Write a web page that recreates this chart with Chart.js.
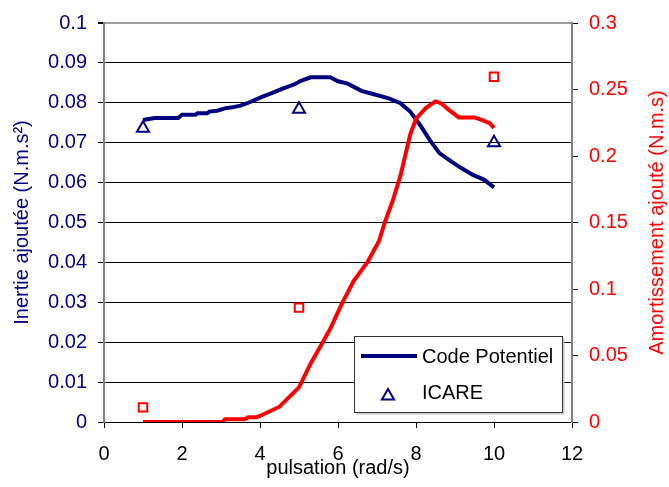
<!DOCTYPE html>
<html>
<head>
<meta charset="utf-8">
<script src="https://cdn.jsdelivr.net/npm/chart.js@4"></script>
<style>
  html, body { margin: 0; padding: 0; background: #fff; }
  canvas { display: block; }
</style>
</head>
<body>
<canvas id="chart" width="669" height="487"></canvas>
<script>
const FONT = "'Liberation Sans', Arial, sans-serif";
const NAVY = "#000080";
const RED = "#FF0000";

// Code Potentiel : inertie ajoutée (axe gauche)
const pulsationInertie = [1.0, 1.3, 1.9, 2.0, 2.35, 2.4, 2.65, 2.7, 2.9, 3.1, 3.25, 3.5, 3.75, 4.05, 4.3, 4.6, 4.9, 5.05, 5.3, 5.8, 6.0, 6.25, 6.6, 6.9, 7.3, 7.6, 7.85, 8.1, 8.35, 8.6, 8.9, 9.15, 9.45, 9.75, 10.0];
const inertieCode = [0.0757, 0.0762, 0.0762, 0.0770, 0.0770, 0.0774, 0.0774, 0.0778, 0.0780, 0.0786, 0.0788, 0.0793, 0.0802, 0.0815, 0.0824, 0.0836, 0.0847, 0.0855, 0.0864, 0.0864, 0.0854, 0.0848, 0.0830, 0.0822, 0.0811, 0.0799, 0.0778, 0.0745, 0.0707, 0.0674, 0.0653, 0.0637, 0.0620, 0.0607, 0.0588];

// Code Potentiel : amortissement ajouté (axe droit)
const pulsationAmort = [1.0, 3.05, 3.1, 3.6, 3.7, 3.9, 4.0, 4.5, 5.0, 5.3, 5.55, 5.8, 6.1, 6.4, 6.75, 7.05, 7.2, 7.4, 7.6, 7.85, 8.0, 8.25, 8.5, 8.65, 8.85, 9.1, 9.5, 9.7, 9.9, 10.0];
const amortCode = [0, 0, 0.002, 0.002, 0.0035, 0.0035, 0.0045, 0.0115, 0.026, 0.044, 0.057, 0.070, 0.089, 0.106, 0.120, 0.136, 0.150, 0.166, 0.185, 0.216, 0.228, 0.236, 0.241, 0.2395, 0.2345, 0.229, 0.229, 0.227, 0.2245, 0.221];

// ICARE
const pulsationIcare = [1, 5, 10];
const inertieIcare = [0.0736, 0.0784, 0.0700];
const amortIcare = [0.011, 0.086, 0.2595];

const xTicks = [0, 2, 4, 6, 8, 10, 12];

const pts = (xs, ys) => xs.map((x, i) => ({ x: x, y: ys[i] }));
const fmt = (v) => String(+v.toFixed(2));

// légende encadrée dans le coin bas droit + titre de l'axe droit
const overlay = {
  id: "overlay",
  afterDraw(chart) {
    const ctx = chart.ctx;
    const area = chart.chartArea;
    ctx.save();

    // titre axe droit, lu de bas en haut
    ctx.fillStyle = RED;
    ctx.font = "20px " + FONT;
    ctx.textAlign = "center";
    ctx.textBaseline = "middle";
    ctx.translate(657, (area.top + area.bottom) / 2);
    ctx.rotate(-Math.PI / 2);
    ctx.fillText("Amortissement ajouté (N.m.s)", 0, 0);
    ctx.setTransform(1, 0, 0, 1, 0, 0);

    // cadre de la légende
    const bx = 354.5, by = 336.5, bw = 208, bh = 76;
    ctx.fillStyle = "#c8c8c8";
    ctx.fillRect(bx + 2, by + 2, bw, bh);
    ctx.fillStyle = "#fff";
    ctx.fillRect(bx, by, bw, bh);
    ctx.strokeStyle = "#333";
    ctx.lineWidth = 1;
    ctx.strokeRect(bx, by, bw, bh);

    ctx.strokeStyle = NAVY;
    ctx.lineWidth = 4;
    ctx.beginPath();
    ctx.moveTo(361, 356);
    ctx.lineTo(417, 356);
    ctx.stroke();

    const r = 7, cx = 388, cy = 396;
    ctx.lineWidth = 2;
    ctx.beginPath();
    ctx.moveTo(cx, cy - r);
    ctx.lineTo(cx + r * Math.sqrt(3) / 2, cy + r / 2);
    ctx.lineTo(cx - r * Math.sqrt(3) / 2, cy + r / 2);
    ctx.closePath();
    ctx.stroke();

    ctx.fillStyle = "#000";
    ctx.textAlign = "left";
    ctx.fillText("Code Potentiel", 422, 357);
    ctx.fillText("ICARE", 422, 393);
    ctx.restore();
  }
};

new Chart(document.getElementById("chart"), {
  type: "scatter",
  data: {
    datasets: [
      {
        label: "Code Potentiel",
        type: "line",
        data: pts(pulsationInertie, inertieCode),
        yAxisID: "y",
        borderColor: NAVY,
        borderWidth: 4,
        pointRadius: 0,
        tension: 0,
        fill: false,
        order: 2,
      },
      {
        label: "ICARE",
        data: pts(pulsationIcare, inertieIcare),
        yAxisID: "y",
        pointStyle: "triangle",
        pointRadius: 7,
        borderColor: NAVY,
        backgroundColor: "rgba(0,0,0,0)",
        borderWidth: 2,
        order: 3,
      },
      {
        label: "Code Potentiel (amortissement)",
        type: "line",
        data: pts(pulsationAmort, amortCode),
        yAxisID: "y2",
        borderColor: RED,
        borderWidth: 4,
        pointRadius: 0,
        tension: 0,
        fill: false,
        order: 0,
      },
      {
        label: "ICARE (amortissement)",
        data: pts(pulsationIcare, amortIcare),
        yAxisID: "y2",
        pointStyle: "rect",
        pointRadius: 6,
        borderColor: RED,
        backgroundColor: "rgba(0,0,0,0)",
        borderWidth: 2,
        order: 1,
      },
    ],
  },
  options: {
    responsive: false,
    devicePixelRatio: 1,
    animation: false,
    layout: { padding: { top: 20, left: 0, right: 0, bottom: 0 } },
    plugins: {
      legend: { display: false },
      tooltip: { enabled: false },
    },
    scales: {
      x: {
        type: "linear",
        min: 0,
        max: 12,
        afterBuildTicks: (s) => { s.ticks = xTicks.map((v) => ({ value: v })); },
        afterFit: (s) => { s.height = 65; },
        ticks: { color: "#000", font: { family: FONT, size: 20 }, padding: 14, maxRotation: 0 },
        grid: { drawOnChartArea: false, drawTicks: true, tickLength: 6, tickColor: "#000" },
        border: { color: "#000", width: 1 },
        title: {
          display: true,
          text: "pulsation (rad/s)",
          color: "#000",
          font: { family: FONT, size: 20 },
          padding: { top: 0, bottom: 7 },
        },
      },
      y: {
        position: "left",
        min: 0,
        max: 0.1,
        ticks: { stepSize: 0.01, autoSkip: false, color: NAVY, font: { family: FONT, size: 20 }, padding: 11, callback: fmt },
        afterFit: (s) => { s.width = 104; },
        grid: {
          color: (c) => (c.tick && c.tick.value > 0.0995 ? "#a0a0a0" : "#000"),
          lineWidth: (c) => (c.tick && c.tick.value > 0.0995 ? 2 : 1),
          tickLength: 6,
          tickColor: "#000",
        },
        border: { color: "#808080", width: 2 },
        title: {
          display: true,
          text: "Inertie ajoutée (N.m.s²)",
          color: NAVY,
          font: { family: FONT, size: 20 },
          padding: { top: 10, bottom: 0 },
        },
      },
      y2: {
        position: "right",
        min: 0,
        max: 0.3,
        ticks: { stepSize: 0.05, autoSkip: false, color: RED, font: { family: FONT, size: 20 }, padding: 11, callback: fmt },
        afterFit: (s) => { s.width = 97; },
        grid: { drawOnChartArea: false, tickLength: 6, tickColor: "#000" },
        border: { color: "#808080", width: 2 },
      },
    },
  },
  plugins: [overlay],
});
</script>
</body>
</html>
